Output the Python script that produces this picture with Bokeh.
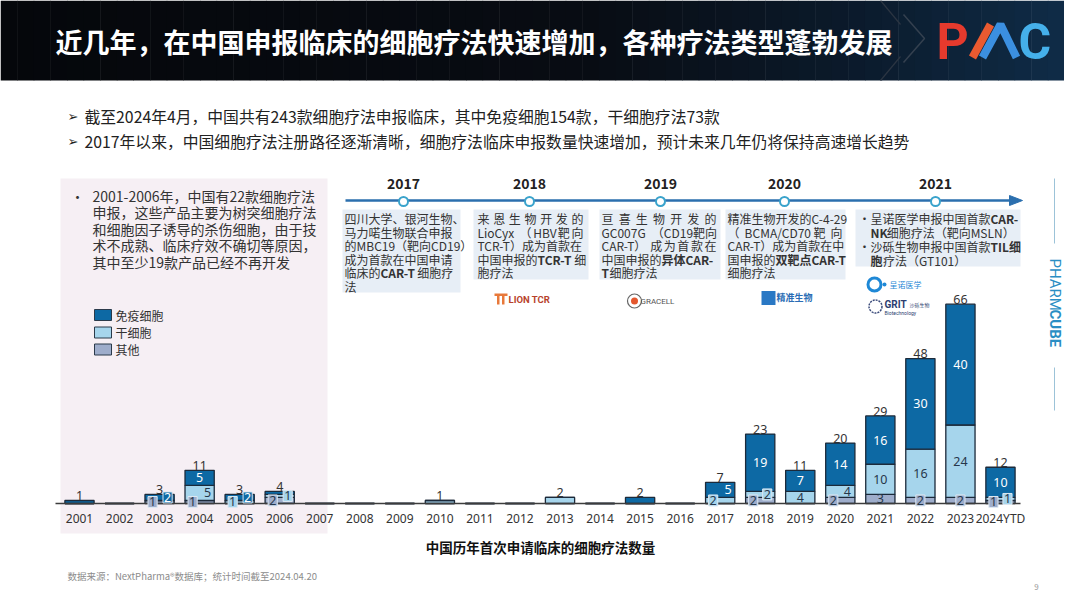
import math
from bokeh.plotting import figure
from bokeh.models import ColumnDataSource, FactorRange, Range1d
from bokeh.transform import dodge
from bokeh.embed import file_html
from bokeh.resources import INLINE
from bokeh.core.properties import value

# ---------------- data ----------------
years = ["2001", "2002", "2003", "2004", "2005", "2006", "2007", "2008", "2009", "2010",
         "2011", "2012", "2013", "2014", "2015", "2016", "2017", "2018", "2019", "2020",
         "2021", "2022", "2023", "2024YTD"]
immune = [1, 0, 2, 5, 2, 1, 0, 0, 0, 0, 0, 0, 0, 0, 2, 0, 5, 19, 7, 14, 16, 30, 40, 10]
stem = [0, 0, 0, 5, 1, 1, 0, 0, 0, 1, 0, 0, 2, 0, 0, 0, 2, 2, 4, 4, 10, 16, 24, 1]
other = [0, 0, 1, 1, 0, 2, 0, 0, 0, 0, 0, 0, 0, 0, 0, 0, 0, 2, 0, 2, 3, 2, 2, 1]
series_labels = ["免疫细胞", "干细胞", "其他"]

title_text = "近几年，在中国申报临床的细胞疗法快速增加，各种疗法类型蓬勃发展"
bullet_texts = ["截至2024年4月，中国共有243款细胞疗法申报临床，其中免疫细胞154款，干细胞疗法73款",
                "2017年以来，中国细胞疗法注册路径逐渐清晰，细胞疗法临床申报数量快速增加，预计未来几年仍将保持高速增长趋势"]
panel_lines = ["2001-2006年，中国有22款细胞疗法", "申报，这些产品主要为树突细胞疗法",
               "和细胞因子诱导的杀伤细胞，由于技", "术不成熟、临床疗效不确切等原因，",
               "其中至少19款产品已经不再开发"]
milestone_years = ["2017", "2018", "2019", "2020", "2021"]
# each line: list of (text, bold); a leading "J" means the line is justified
milestones = [
    [[("四川大学、银河生物、", 0)], [("马力喏生物联合申报", 0)], [("的MBC19（靶向CD19）", 0)],
     [("成为首款在中国申请", 0)], [("临床的", 0), ("CAR-T", 1), ("细胞疗", 0)], [("法", 0)]],
    [["J"] + [(c, 0) for c in "来恩生物开发的"],
     ["J", ("LioCyx", 0), ("（", 0), ("HBV", 0), ("靶", 0), ("向", 0)],
     [("TCR-T）成为首款在", 0)], [("中国申报的", 0), ("TCR-T", 1), ("细", 0)], [("胞疗法", 0)]],
    [["J"] + [(c, 0) for c in "亘喜生物开发的"],
     ["J", ("GC007G", 0), ("（CD19靶向", 0)],
     ["J", ("CAR-T）", 0), ("成", 0), ("为", 0), ("首", 0), ("款", 0), ("在", 0)],
     [("中国申报的", 0), ("异体CAR-", 1)], [("T", 1), ("细胞疗法", 0)]],
    [[("精准生物开发的C-4-29", 0)],
     ["J", ("（", 0), ("BCMA/CD70", 0), ("靶", 0), ("向", 0)],
     [("CAR-T）成为首款在中", 0)], [("国申报的", 0), ("双靶点CAR-T", 1)], [("细胞疗法", 0)]],
    [[("呈诺医学申报中国首款", 0), ("CAR-", 1)], [("NK", 1), ("细胞疗法（靶向MSLN）", 0)],
     [("沙砾生物申报中国首款", 0), ("TIL细", 1)], [("胞", 1), ("疗法（GT101）", 0)]],
]
chart_title = "中国历年首次申请临床的细胞疗法数量"
source_note = "数据来源：NextPharma®数据库；统计时间截至2024.04.20"

# ---------------- style ----------------
CJK = "Noto Sans CJK SC"
C_IMM, C_STEM, C_OTH = "#0d69a4", "#a6d5ec", "#9eadcb"
OUTLINE = "#1c2a3a"
W, H = 1064, 591
K = 3.02      # px per unit
BASE = 88     # px from canvas bottom to baseline
PAD = 1.286   # factor-range padding (absolute)
SPAN = len(years) + 2 * PAD
STEP = W / SPAN
DX = 79 / STEP - PAD - 0.5   # shift of category centres

p = figure(width=W, height=H,
           x_range=FactorRange(factors=years, range_padding=PAD, range_padding_units="absolute"),
           y_range=Range1d(-BASE / K, (H - BASE) / K),
           output_backend="svg", toolbar_location=None,
           x_axis_location=None, y_axis_location=None, min_border=0)
p.extra_y_ranges = {"px": Range1d(H, 0)}
p.grid.visible = False
p.outline_line_color = None
p.background_fill_color = "white"
p.border_fill_color = "white"
PX = dict(y_range_name="px")


def X(v):
    """page pixel -> synthetic coordinate of the categorical x range"""
    if isinstance(v, (list, tuple)):
        return [X(a) for a in v]
    return -PAD + v / STEP


def cat(field):
    return dodge(field, DX, range=p.x_range)


texts = {}


def put(x, y, s, size, color="#333333", bold=False, align="left", baseline="middle", font=CJK, angle=0.0):
    key = (size, bool(bold), color, align, baseline, font, angle)
    d = texts.setdefault(key, {"x": [], "y": [], "text": []})
    d["x"].append(X(x))
    d["y"].append(y)
    d["text"].append(s)


def tw(s, size, bold=False):
    w = 0.0
    for ch in s:
        o = ord(ch)
        if o > 0x2e80:
            w += 1.0
        elif ch.isupper():
            w += 0.64
        elif ch.isdigit():
            w += 0.555
        elif ch.islower():
            w += 0.52
        elif ch == " ":
            w += 0.25
        elif ch in "-/.":
            w += 0.36
        else:
            w += 0.55
    return w * size * (1.05 if bold else 1.0)


def rich(x, y, segs, size=12, color="#333333"):
    for s, b in segs:
        put(x, y, s, size, color, bold=b)
        x += tw(s, size, b)


def justify(x0, x1, y, tokens, size=12, color="#333333"):
    widths = [tw(t, size, b) for t, b in tokens]
    gap = (x1 - x0 - sum(widths)) / max(1, len(tokens) - 1)
    x = x0
    for (t, b), w in zip(tokens, widths):
        put(x, y, t, size, color, bold=b)
        x += w + gap


def lerp(c1, c2, t):
    a = [int(c1[i:i + 2], 16) for i in (1, 3, 5)]
    b = [int(c2[i:i + 2], 16) for i in (1, 3, 5)]
    return "#%02x%02x%02x" % tuple(int(round(a[i] + (b[i] - a[i]) * t)) for i in range(3))


# ---------------- header ----------------
stops = [(0.0, "#05070b"), (0.55, "#080c13"), (0.8, "#0b1a2b"), (1.0, "#0f2c47")]
n = 64
lefts, rights, cols = [], [], []
for i in range(n):
    t = (i + 0.5) / n
    for j in range(len(stops) - 1):
        if stops[j][0] <= t <= stops[j + 1][0]:
            tt = (t - stops[j][0]) / (stops[j + 1][0] - stops[j][0])
            cols.append(lerp(stops[j][1], stops[j + 1][1], tt))
            break
    lefts.append(i * W / n)
    rights.append((i + 1) * W / n + 0.5)
p.quad(left=X(lefts), right=X(rights), top=[0] * n, bottom=[80] * n, fill_color=cols, line_color=None, **PX)
p.line(x=X([903, 924, 903]), y=[14, 38, 62], line_color="#34404f", line_width=1.5, **PX)
p.line(x=X([880, 900]), y=[0, 24], line_color="#2b3542", line_width=1.2, **PX)
p.line(x=X([880, 900]), y=[80, 56], line_color="#2b3542", line_width=1.2, **PX)
put(55, 41, title_text, 27, "white", bold=True)
# PMC logo
put(936, 41, "P", 50, "#e63a2d", bold=True, font="Roboto")
p.line(x=X([972, 990]), y=[57, 24], line_color="#ea5a30", line_width=8, **PX)
p.line(x=X([982, 1000, 1016]), y=[57, 24, 57], line_color="#3b8fe0", line_width=8, **PX)
put(1018, 41, "C", 50, "#45b0ea", bold=True, font="Roboto")

# ---------------- bullets ----------------
for yy, s in zip([116, 141], bullet_texts):
    put(67, yy, "➢", 13, "#222222", font="DejaVu Sans")
    put(84, yy, s, 15.8, "#222222")

# ---------------- left panel ----------------
p.quad(left=X([60]), right=X([327]), top=[178], bottom=[533], fill_color="#f6eff4", line_color=None, **PX)
put(70, 195, "•", 14, "#333333")
for k, s in enumerate(panel_lines):
    put(92, 195 + k * 16.5, s, 14, "#333333")
leg_y = [314.5, 332, 349]
p.quad(left=X([94] * 3), right=X([111] * 3), top=[y - 5.5 for y in leg_y], bottom=[y + 5.5 for y in leg_y],
       fill_color=[C_IMM, C_STEM, C_OTH], line_color="#2b3a4a", line_width=1, **PX)
for y, s in zip(leg_y, series_labels):
    put(115, y, s, 12, "#333333")

# ---------------- timeline ----------------
box_x = [(342, 460), (473, 588), (599, 720), (725, 845), (855, 1020)]
box_bottom = [292, 279, 279, 279, 266]
p.quad(left=X([a for a, b in box_x]), right=X([b for a, b in box_x]), top=[209] * 5, bottom=box_bottom,
       fill_color="#e7eef6", line_color=None, **PX)
p.line(x=X([345, 1012]), y=[200, 200], line_color="#2b6fae", line_width=2.5, **PX)
p.patch(x=X([1009, 1022, 1009]), y=[195, 200, 205], color="#2b6fae", **PX)
dot_x = [403, 529, 660, 784, 935]
p.scatter(x=X(dot_x), y=[201] * 5, size=9, marker="circle", fill_color="white",
          line_color="#3aa3cc", line_width=2, **PX)
for x, s in zip(dot_x, milestone_years):
    put(x, 183, s, 14, "#222222", bold=True, align="center")
text_x = [(344, 462), (477, 583), (601, 716), (727, 842), (870, 1019)]
for bi, lines in enumerate(milestones):
    x0, x1 = text_x[bi]
    step = 14 if bi == 4 else 13.5
    for li, line in enumerate(lines):
        y = 218 + li * step
        if line and line[0] == "J":
            justify(x0, x1, y, line[1:])
        else:
            rich(x0, y, line)
    if bi == 4:
        put(858, 218, "•", 12, "#333333")
        put(858, 218 + 2 * step, "•", 12, "#333333")

# logos (approximate)
p.quad(left=X([494, 496.5, 501.5]), right=X([507, 499, 504]), top=[293, 295, 295], bottom=[295.5, 304, 304],
       fill_color="#e8793a", line_color=None, **PX)
put(508, 298.5, "LION TCR", 9.5, "#b8432c", bold=True, font="Roboto")
p.scatter(x=X([634]), y=[300.5], size=14, marker="circle", fill_color="white", line_color="#666666",
          line_width=1.2, **PX)
p.scatter(x=X([634]), y=[300.5], size=7, marker="circle", fill_color="#e4572e", line_color=None, **PX)
put(640, 300.5, "GRACELL", 8, "#555555", font="Roboto")
p.scatter(x=X([768]), y=[297.5], size=14, marker="square", fill_color="#2a78c4", line_color=None, **PX)
put(776, 296.5, "精准生物", 9, "#2a6db5", bold=True)
p.scatter(x=X([874]), y=[284], size=13, marker="circle", fill_color=None, line_color="#1e88d6",
          line_width=3, **PX)
p.scatter(x=X([884]), y=[284], size=4, marker="circle", fill_color="#1e88d6", line_color=None, **PX)
put(889, 283.5, "呈诺医学", 8, "#1e88d6")
p.scatter(x=X([875]), y=[306], size=13, marker="circle", fill_color=None, line_color="#3a4a7a",
          line_width=1.5, line_dash="2 1", **PX)
put(884, 304, "GRIT", 10, "#2c3e70", bold=True, font="Roboto")
put(909, 304, "沙砾生物", 5, "#2c3e70")
put(884, 312, "Biotechnology", 5, "#2c3e70", font="Roboto")

# PHARMCUBE side mark
SX = 1054
p.line(x=X([SX, SX]), y=[178, 243], line_color="#9cc3d8", line_width=1, **PX)
p.line(x=X([SX, SX]), y=[367, 410], line_color="#9cc3d8", line_width=1, **PX)
put(SX, 258, "PHARM", 15, "#2a8ec4", font="Roboto", angle=-math.pi / 2)
put(SX, 258 + tw("PHARM", 15) + 3, "CUBE", 15, "#2a8ec4", bold=True, font="Roboto", angle=-math.pi / 2)

# ---------------- bars ----------------
src = ColumnDataSource(dict(year=years, immune=immune, stem=stem, other=other))
p.vbar_stack(["other", "stem", "immune"], x=cat("year"), width=0.73, source=src,
             fill_color=[C_OTH, C_STEM, C_IMM], line_color=OUTLINE, line_width=1.3)
p.line(x=X([55, 1020]), y=[503, 503], line_color="#3c3c3c", line_width=1.5, **PX)

# x tick labels
tick_src = ColumnDataSource(dict(x=years, y=[518] * len(years), text=years))
p.text(x=cat("x"), y="y", text="text", source=tick_src, text_font=value("Noto Sans"), text_font_size="12px",
       text_color="#333333", text_align="center", text_baseline="middle", y_range_name="px")

# totals
totals = [a + b + c for a, b, c in zip(other, stem, immune)]
tot_src = ColumnDataSource(dict(x=[y for y, t in zip(years, totals) if t > 0],
                                y=[t + 1.6 for t in totals if t > 0],
                                text=[str(t) for t in totals if t > 0]))
p.text(x=cat("x"), y="y", text="text", source=tot_src, text_font=value("Noto Sans"), text_font_size="12.5px",
       text_color="#333333", text_align="center", text_baseline="alphabetic")

# inner labels
shift = {("2003", "other"): -7, ("2003", "immune"): 8, ("2004", "other"): -7, ("2004", "stem"): 8,
         ("2005", "stem"): -7, ("2005", "immune"): 8, ("2006", "other"): -7, ("2006", "stem"): 8,
         ("2017", "stem"): -7, ("2017", "immune"): 8, ("2018", "other"): -7, ("2018", "stem"): 7,
         ("2020", "other"): -7, ("2020", "stem"): 7, ("2024YTD", "other"): -7, ("2024YTD", "stem"): 7}
hidden = {("2006", "immune")}
seg_color = {"other": C_OTH, "stem": C_STEM, "immune": C_IMM}
txt_color = {"other": "#26374a", "stem": "#26374a", "immune": "#ffffff"}
plain = {"x": [], "y": [], "text": [], "xo": [], "c": []}
boxed = {"x": [], "y": [], "text": [], "xo": [], "c": [], "bg": []}
for i, yr in enumerate(years):
    vals = [("other", other[i]), ("stem", stem[i]), ("immune", immune[i])]
    if sum(1 for _, v in vals if v > 0) < 2:
        continue
    bottom = 0
    for name, v in vals:
        if v > 0 and (yr, name) not in hidden:
            d = boxed if v <= 2 else plain
            d["x"].append(yr)
            d["y"].append(bottom + v / 2)
            d["text"].append(str(v))
            d["xo"].append(shift.get((yr, name), 0))
            d["c"].append(txt_color[name])
            if d is boxed:
                d["bg"].append(seg_color[name])
        bottom += v
p.text(x=cat("x"), y="y", text="text", x_offset="xo", text_color="c", source=ColumnDataSource(plain),
       text_font=value("Noto Sans"), text_font_size="12.5px", text_align="center", text_baseline="middle")
p.text(x=cat("x"), y="y", text="text", x_offset="xo", text_color="c", source=ColumnDataSource(boxed),
       text_font=value("Noto Sans"), text_font_size="12.5px", text_align="center", text_baseline="middle",
       background_fill_color="bg", border_line_color="#dde8f2", border_line_width=1, padding=1)

# chart title / source / page
put(540, 546, chart_title, 13.5, "#111111", bold=True, align="center")
put(67, 575, source_note, 9.5, "#8c8c8c")
put(1036, 586, "9", 8, "#999999", align="center")

# flush text
for (size, bold, color, align, baseline, font, angle), d in texts.items():
    p.text(x="x", y="y", text="text", source=ColumnDataSource(d), text_font=value(font),
           text_font_size=f"{size}px", text_color=color, text_font_style="bold" if bold else "normal",
           text_align=align, text_baseline=baseline, angle=angle, **PX)

open("out.html", "w").write(file_html(p, INLINE))
